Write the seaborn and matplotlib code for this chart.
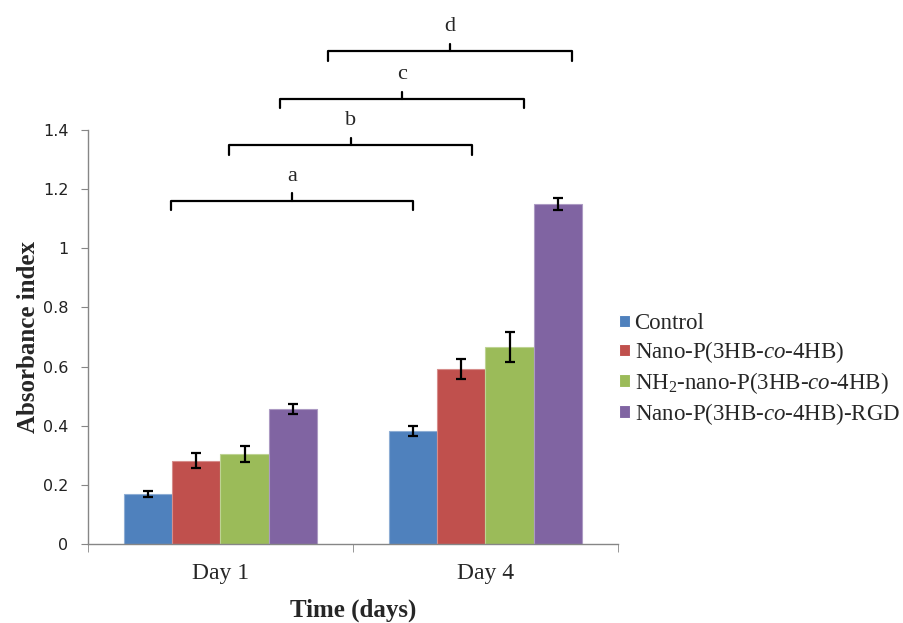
import matplotlib
matplotlib.use("Agg")
import matplotlib.pyplot as plt
import matplotlib.colors as mcolors
import seaborn as sns
import pandas as pd
import numpy as np
from matplotlib.ticker import FuncFormatter, FixedLocator

# ---- data ----
days = ["Day 1", "Day 4"]
groups = ["Control",
          r"Nano-P(3HB-$\it{co}$-4HB)",
          r"NH$_2$-nano-P(3HB-$\it{co}$-4HB)",
          r"Nano-P(3HB-$\it{co}$-4HB)-RGD"]
control = [0.169, 0.382]
nano = [0.282, 0.591]
nh2 = [0.304, 0.665]
rgd = [0.457, 1.150]
control_err = [0.011, 0.018]
nano_err = [0.026, 0.034]
nh2_err = [0.026, 0.051]
rgd_err = [0.016, 0.019]
colors = ["#4F81BD", "#C0504D", "#9BBB59", "#8064A2"]

# significance brackets: label, x start, x end, y level
br_labels = ["a", "b", "c", "d"]
br_x0 = [-0.188, 0.032, 0.223, 0.407]
br_x1 = [0.728, 0.950, 1.145, 1.325]
br_y = [1.161, 1.349, 1.505, 1.667]

values = [control, nano, nh2, rgd]
errs = [control_err, nano_err, nh2_err, rgd_err]

rows = []
for g, vals in zip(groups, values):
    for d, v in zip(days, vals):
        rows.append({"Day": d, "Group": g, "Value": v})
df = pd.DataFrame(rows)

sns.set_style("white")
plt.rcParams["font.family"] = ["Liberation Serif", "DejaVu Serif"]
plt.rcParams["mathtext.fontset"] = "custom"
plt.rcParams["mathtext.rm"] = "Liberation Serif"
plt.rcParams["mathtext.it"] = "Liberation Serif:italic"
plt.rcParams["mathtext.bf"] = "Liberation Serif:bold"

fig = plt.figure(figsize=(9.04, 6.23), dpi=100)
ax = fig.add_axes([88/904, 1-544/623, (618-88)/904, (544-130)/623])

sns.barplot(data=df, x="Day", y="Value", hue="Group", order=days,
            hue_order=groups, palette=colors, width=0.73, errorbar=None,
            ax=ax, saturation=1, legend=True, linewidth=0.8)

for cont, e, vals, c in zip(ax.containers, errs, values, colors):
    light = mcolors.to_rgb(c)
    light = tuple(v + (1 - v) * 0.35 for v in light)
    for b in cont:
        b.set_edgecolor(light)
    xs = [b.get_x() + b.get_width()/2 for b in cont]
    ax.errorbar(xs, vals, yerr=e, fmt="none", ecolor="black",
                elinewidth=1.6, capsize=3.7, capthick=1.6, zorder=5)

ax.set_xlim(-0.5, 1.5)
ax.set_ylim(0, 1.4)
ax.set_yticks(np.arange(0, 1.41, 0.2))
ax.yaxis.set_major_formatter(FuncFormatter(lambda v, p: "%g" % round(v, 1)))
for lab in ax.get_yticklabels():
    lab.set_fontfamily("DejaVu Sans")
    lab.set_fontsize(11.5)
    lab.set_color("#222222")
ax.tick_params(axis="y", left=True, length=5, color="#868686", pad=9)
ax.tick_params(axis="x", which="major", length=0, labelsize=17, pad=14)
ax.xaxis.set_minor_locator(FixedLocator([-0.5, 0.5, 1.5]))
ax.tick_params(axis="x", which="minor", bottom=True, length=6, color="#868686")

for s in ["top", "right"]:
    ax.spines[s].set_visible(False)
for s in ["left", "bottom"]:
    ax.spines[s].set_color("#868686")
    ax.spines[s].set_linewidth(1.0)

ax.set_xlabel("Time (days)", fontsize=18, fontweight="bold", labelpad=10)
ax.set_ylabel("Absorbance index", fontsize=18, fontweight="bold", labelpad=2)

# legend
handles, labels = ax.get_legend_handles_labels()
ax.legend(handles, labels, loc="center left",
          bbox_to_anchor=(619/904, 1-370/623), bbox_transform=fig.transFigure,
          frameon=False, fontsize=16.5, handlelength=0.48, handleheight=0.48,
          handletextpad=0.2, labelspacing=0.22, borderaxespad=0,
          borderpad=0)

# brackets
hook = 0.032
tick = 0.025
for lab, x0, x1, y in zip(br_labels, br_x0, br_x1, br_y):
    xm = (x0 + x1) / 2
    ax.plot([x0, x0, x1, x1], [y - hook, y, y, y - hook], color="black",
            lw=1.6, clip_on=False, solid_joinstyle="round")
    ax.plot([xm, xm], [y, y + tick], color="black", lw=1.6, clip_on=False)
    ax.text(xm, y + 0.067, lab, ha="center", va="baseline", fontsize=16,
            clip_on=False)

fig.savefig("out.png", dpi=100)
